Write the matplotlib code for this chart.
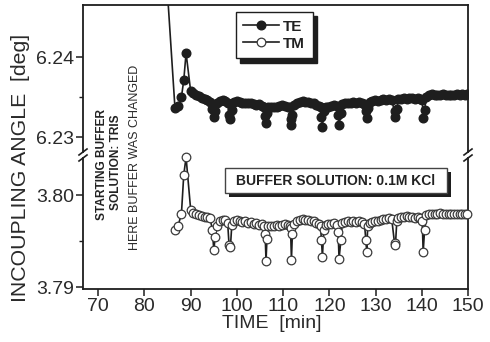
import matplotlib
matplotlib.use("Agg")
import matplotlib.pyplot as plt
from matplotlib.patches import Rectangle
from matplotlib.lines import Line2D

plt.rcParams['font.family'] = ['Liberation Sans', 'DejaVu Sans']

# ---------------- data ----------------
time = [86.6, 87.3, 88.0, 88.5, 89.0, 90.0,
        90.6, 91.2, 91.8, 92.4, 93.0, 93.6, 94.2,
        94.7, 95.0, 95.3, 95.7,
        96.3, 96.9, 97.5, 98.0,
        98.3, 98.6, 98.9,
        99.4, 100.0, 100.6, 101.2, 101.8, 102.4, 103.0, 103.6, 104.2, 104.8, 105.4, 105.9,
        106.1, 106.3, 106.5,
        106.8, 107.4, 108.0, 108.6, 109.2, 109.8, 110.4, 111.0, 111.5,
        111.6, 111.8, 112.0,
        112.4, 113.0, 113.6, 114.2, 114.8, 115.4, 116.0, 116.6, 117.2, 117.8, 118.1,
        118.3, 118.5, 118.8,
        119.2, 119.8, 120.4, 121.0, 121.6,
        121.9, 122.1, 122.5,
        122.8, 123.4, 124.0, 124.6, 125.2, 125.8, 126.4, 127.0, 127.6,
        127.9, 128.1, 128.3,
        128.7, 129.3, 129.9, 130.5, 131.1, 131.7, 132.3, 132.9, 133.5,
        134.1, 134.3, 134.6,
        134.9, 135.5, 136.1, 136.7, 137.3, 137.9, 138.5, 139.1, 139.7, 140.1,
        140.3, 140.6,
        141.0, 141.6, 142.2, 142.8, 143.4, 144.0, 144.6, 145.2, 145.8, 146.4,
        147.0, 147.6, 148.2, 148.8, 149.3, 149.7]

te_angle = [6.2336, 6.2339, 6.2350, 6.2371, 6.2405, 6.2357,
            6.2355, 6.2353, 6.2351, 6.2349, 6.2347, 6.2346, 6.2344,
            6.2335, 6.2325, 6.2332, 6.2343,
            6.2345, 6.2346, 6.2345, 6.2343,
            6.2328, 6.2322, 6.2334,
            6.2344, 6.2345, 6.2344, 6.2343, 6.2342, 6.2343, 6.2342, 6.2341, 6.2340, 6.2341, 6.2339, 6.2338,
            6.2326, 6.2317, 6.2330,
            6.2337, 6.2338, 6.2338, 6.2337, 6.2339, 6.2340, 6.2339, 6.2338, 6.2337,
            6.2322, 6.2315, 6.2328,
            6.2340, 6.2343, 6.2344, 6.2345, 6.2344, 6.2344, 6.2343, 6.2342, 6.2340, 6.2339, 6.2337,
            6.2325, 6.2313, 6.2333,
            6.2338, 6.2338, 6.2339, 6.2340, 6.2339,
            6.2328, 6.2315, 6.2330,
            6.2341, 6.2343, 6.2343, 6.2342, 6.2344, 6.2343, 6.2344, 6.2343, 6.2341,
            6.2332, 6.2324, 6.2336,
            6.2344, 6.2345, 6.2346, 6.2345, 6.2346, 6.2347, 6.2346, 6.2347, 6.2346,
            6.2332, 6.2325, 6.2335,
            6.2347, 6.2348, 6.2349, 6.2348, 6.2349, 6.2349, 6.2348, 6.2349, 6.2348, 6.2346,
            6.2324, 6.2334,
            6.2350, 6.2353, 6.2354, 6.2353, 6.2352, 6.2353, 6.2354, 6.2352, 6.2353, 6.2352,
            6.2353, 6.2354, 6.2353, 6.2354, 6.2353, 6.2354]

tm_angle = [3.7962, 3.7967, 3.7980, 3.8022, 3.8041, 3.7984,
            3.7981, 3.7979, 3.7978, 3.7977, 3.7976, 3.7976, 3.7975,
            3.7962, 3.7940, 3.7955, 3.7966,
            3.7972, 3.7973, 3.7973, 3.7970,
            3.7946, 3.7944, 3.7968,
            3.7972, 3.7973, 3.7972, 3.7971, 3.7972, 3.7970, 3.7971, 3.7969, 3.7970, 3.7968, 3.7969, 3.7967,
            3.7958, 3.7929, 3.7952,
            3.7966, 3.7967, 3.7967, 3.7968, 3.7967, 3.7968, 3.7969, 3.7968, 3.7966,
            3.7964, 3.7930, 3.7958,
            3.7969, 3.7972, 3.7973, 3.7974, 3.7973, 3.7973, 3.7972, 3.7972, 3.7970, 3.7969, 3.7966,
            3.7951, 3.7933, 3.7962,
            3.7968, 3.7969, 3.7969, 3.7970, 3.7968,
            3.7960, 3.7931, 3.7951,
            3.7970, 3.7971, 3.7972, 3.7971, 3.7972, 3.7971, 3.7972, 3.7971, 3.7969,
            3.7951, 3.7938, 3.7967,
            3.7970, 3.7971, 3.7972, 3.7972, 3.7973, 3.7974, 3.7974, 3.7975, 3.7974,
            3.7948, 3.7946, 3.7972,
            3.7975, 3.7976, 3.7976, 3.7977, 3.7976, 3.7976, 3.7975, 3.7976, 3.7975, 3.7972,
            3.7938, 3.7962,
            3.7978, 3.7980, 3.7980, 3.7979, 3.7980, 3.7981, 3.7980, 3.7979, 3.7980, 3.7979,
            3.7980, 3.7979, 3.7980, 3.7979, 3.7980, 3.7980]

# TE point recorded before the window (off-scale)
te_start_time = [84.0]
te_start_angle = [6.2567]

x_ticks = [70, 80, 90, 100, 110, 120, 130, 140, 150]
top_ticks = [6.23, 6.24]
bot_ticks = [3.79, 3.80]

# ---------------- figure ----------------
W, H = 490, 342
fig = plt.figure(figsize=(W / 100, H / 100), dpi=100)
ink = '#1e1e1e'

L, R = 83, 468
ax_top = fig.add_axes([L / W, 1 - 152 / H, (R - L) / W, 147 / H])
ax_bot = fig.add_axes([L / W, 1 - 289 / H, (R - L) / W, 131 / H])

for ax in (ax_top, ax_bot):
    ax.set_xlim(66.7, 150)
    for s in ax.spines.values():
        s.set_linewidth(1.3)
        s.set_color(ink)
    ax.tick_params(axis='y', which='major', length=5, width=1.1, color=ink,
                   labelsize=14, labelcolor='#2a2a2a', pad=1.5, right=False)
    ax.tick_params(axis='y', which='minor', length=3, width=1.0, color=ink, right=False)
    ax.set_facecolor('white')

ax_top.spines['bottom'].set_visible(False)
ax_bot.spines['top'].set_visible(False)
ax_top.tick_params(axis='x', which='both', bottom=False, top=False, labelbottom=False)

ax_top.set_ylim(6.228125, 6.2465)
ax_bot.set_ylim(3.78982, 3.80402)
ax_top.set_yticks(top_ticks)
ax_top.set_yticks([6.235], minor=True)
ax_top.set_yticklabels([f"{v:.2f}" for v in top_ticks])
ax_bot.set_yticks(bot_ticks)
ax_bot.set_yticks([3.795], minor=True)
ax_bot.set_yticklabels([f"{v:.2f}" for v in bot_ticks])

ax_bot.set_xticks(x_ticks)
ax_bot.set_xticklabels([str(v) for v in x_ticks])
ax_bot.tick_params(axis='x', which='major', length=5, width=1.1, color=ink,
                   labelsize=14, labelcolor='#2a2a2a', pad=1.5, top=False)
ax_bot.tick_params(axis='x', which='minor', bottom=False, top=False)

MS = 6.2
# data
ax_top.plot(te_start_time + time, te_start_angle + te_angle, '-o', color=ink,
            lw=1.2, ms=MS, mfc=ink, mec=ink, clip_on=True, zorder=3)
ax_bot.plot(time, tm_angle, '-o', color=ink, lw=1.2, ms=MS, mfc='white',
            mec='#3a3a3a', mew=0.9, clip_on=False, zorder=3)

# legend
h_te = Line2D([], [], color=ink, lw=1.2, marker='o', ms=MS, mfc=ink, mec=ink)
h_tm = Line2D([], [], color=ink, lw=1.2, marker='o', ms=MS, mfc='white', mec='#3a3a3a', mew=0.9)
leg = ax_top.legend([h_te, h_tm], ['TE', 'TM'], loc='upper left',
                    bbox_to_anchor=(0.397, 0.952), fancybox=False,
                    prop={'weight': 'bold', 'size': 11}, handlelength=2.3,
                    handletextpad=0.3, borderpad=0.5, labelspacing=0.2,
                    borderaxespad=0, framealpha=1, edgecolor=ink,
                    shadow={'color': ink, 'alpha': 1, 'ox': 3, 'oy': -3})
leg.get_frame().set_linewidth(1.0)
for t in leg.get_texts():
    t.set_color('#222222')

# buffer box (bottom axes, axes-fraction coords)
bx0, bx1, by0, by1 = 0.369, 0.945, 0.730, 0.921
ax_bot.add_patch(Rectangle((bx0 + 0.011, by0 - 0.03), bx1 - bx0, by1 - by0,
                           transform=ax_bot.transAxes, facecolor=ink,
                           edgecolor=ink, lw=0, zorder=5, clip_on=False))
ax_bot.add_patch(Rectangle((bx0, by0), bx1 - bx0, by1 - by0,
                           transform=ax_bot.transAxes, facecolor='white',
                           edgecolor='#444444', lw=1.0, zorder=6, clip_on=False))
ax_bot.text((bx0 + bx1) / 2, (by0 + by1) / 2, 'BUFFER SOLUTION: 0.1M KCl',
            transform=ax_bot.transAxes, ha='center', va='center',
            fontsize=10, fontweight='bold', color='#222222', zorder=7)

# rotated annotation
fig.text(101.5 / W, 1 - 164 / H, 'STARTING BUFFER', rotation=90, ha='center',
         va='center', fontsize=8.6, fontweight='bold', color='#222222')
fig.text(115.5 / W, 1 - 162 / H, 'SOLUTION: TRIS', rotation=90, ha='center',
         va='center', fontsize=8.6, fontweight='bold', color='#222222')
fig.text(134.5 / W, 1 - 157.5 / H, 'HERE BUFFER WAS CHANGED', rotation=90,
         ha='center', va='center', fontsize=9, color='#2a2a2a')

# axis labels
fig.text(21 / W, 1 - 168 / H, 'INCOUPLING ANGLE  [deg]', rotation=90,
         ha='center', va='center', fontsize=15.3, color='#2a2a2a')
fig.text(272 / W, 1 - 323 / H, 'TIME  [min]', ha='center', va='center',
         fontsize=14, color='#2a2a2a')

# break marks
for xp in (L, R):
    for yp in (152, 158):
        fig.add_artist(Line2D([(xp - 4) / W, (xp + 4) / W],
                              [1 - (yp + 3) / H, 1 - (yp - 3) / H],
                              color=ink, lw=1.2, transform=fig.transFigure))

fig.savefig('out.png', dpi=100)
